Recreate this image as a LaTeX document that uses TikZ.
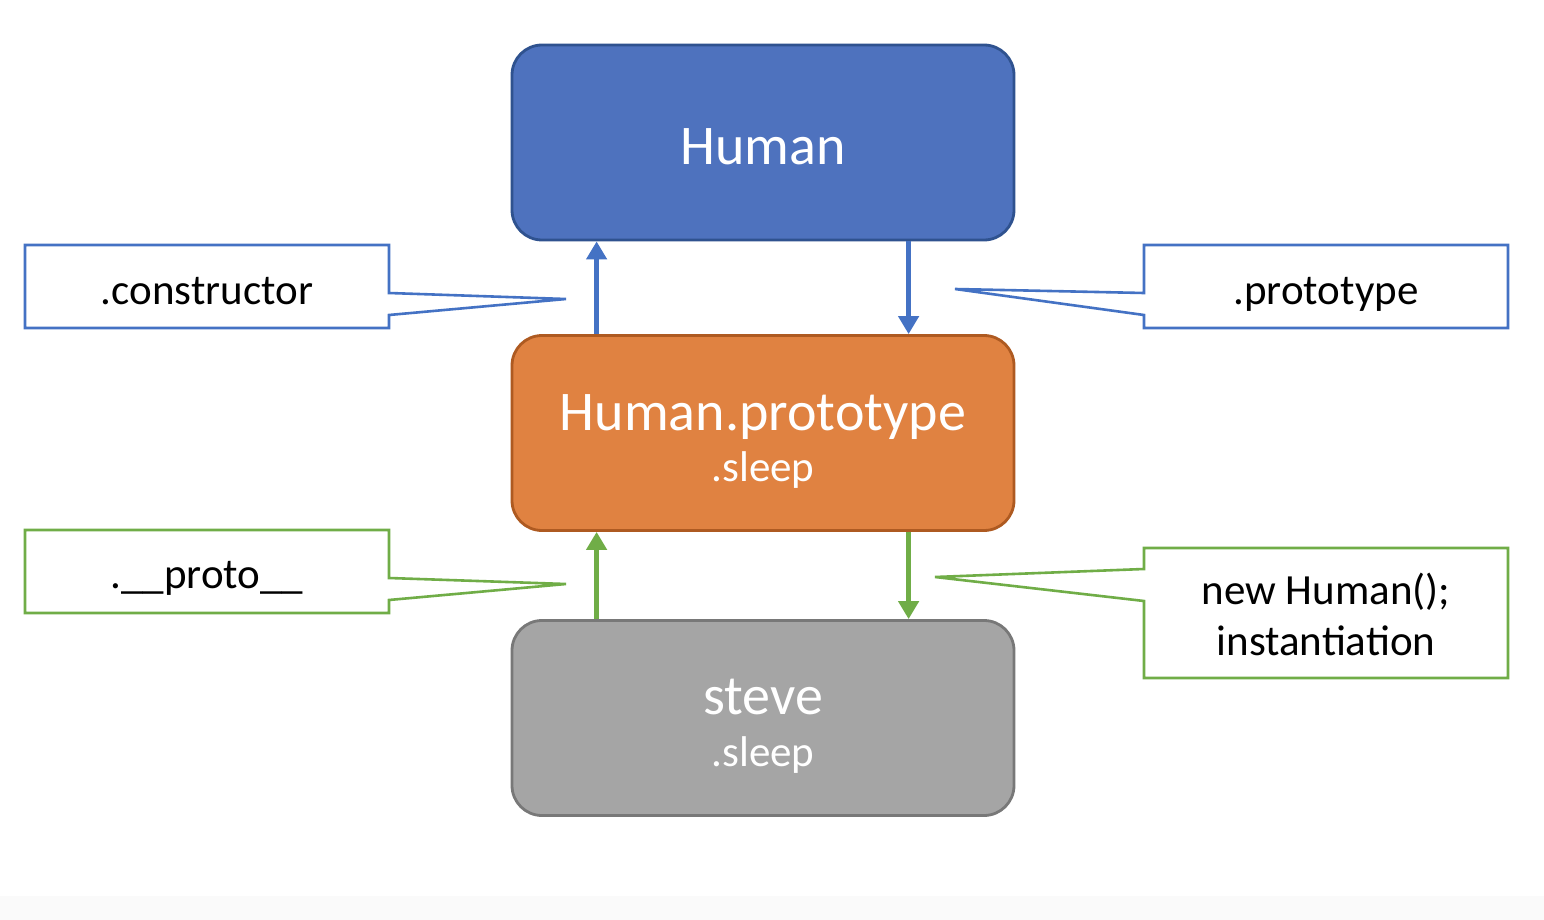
\documentclass[tikz,border=0pt]{standalone}
\usepackage{fontspec}
\setmainfont{Carlito}
\usetikzlibrary{arrows.meta,calc}
\definecolor{hblue}{HTML}{4E72BE}
\definecolor{hblueD}{HTML}{2F528F}
\definecolor{lblue}{HTML}{4472C4}
\definecolor{horange}{HTML}{E08241}
\definecolor{horangeD}{HTML}{AE5A21}
\definecolor{hgray}{HTML}{A5A5A5}
\definecolor{hgrayD}{HTML}{787878}
\definecolor{hgreen}{HTML}{70AD47}
\definecolor{strip}{HTML}{FAFAFA}
\tikzset{
  objbox/.style={rectangle, rounded corners=15pt, minimum width=251pt, minimum height=97.5pt, line width=1.4pt, inner sep=0pt},
  bigtxt/.style={anchor=base, text=white, font=\fontsize{28}{32}\selectfont, inner sep=0pt},
  smalltxt/.style={anchor=base, text=white, font=\fontsize{21.5}{25}\selectfont, inner sep=0pt},
  calltxt/.style={anchor=base, text=black, font=\fontsize{21.5}{25}\selectfont, inner sep=0pt},
  callbox/.style={line width=1.3pt, fill=white},
  link/.style={line width=2.8pt, -{Triangle[width=10pt,length=9pt]}},
}
\begin{document}
\begin{tikzpicture}[x=0.5pt,y=-0.5pt]
\useasboundingbox (0,0) rectangle (1544,920);
\fill[white] (0,0) rectangle (1544,920);
\fill[strip] (0,896) rectangle (1544,920);

% object boxes
\node[objbox, fill=hblue, draw=hblueD] (H) at (763,142.5) {};
\node[objbox, fill=horange, draw=horangeD] (HP) at (763,433) {};
\node[objbox, fill=hgray, draw=hgrayD] (S) at (763,718) {};

\node[bigtxt] (Htxt) at (763,165) {Human};
\node[bigtxt] (HPtxt) at (763,430) {Human.prototype};
\node[smalltxt] (HPsleep) at (763,481) {.sleep};
\node[bigtxt] (Stxt) at (763,714) {steve};
\node[smalltxt] (Ssleep) at (763,766) {.sleep};

% connector end points
\coordinate (HPl) at ($(HP.north west)+(86,0)$);
\coordinate (Hl) at ($(H.south west)+(86,0)$);
\coordinate (Hr) at ($(H.south west)+(398,0)$);
\coordinate (HPr) at ($(HP.north west)+(398,0)$);
\coordinate (Sl) at ($(S.north west)+(86,0)$);
\coordinate (HPbl) at ($(HP.south west)+(86,0)$);
\coordinate (HPbr) at ($(HP.south west)+(398,0)$);
\coordinate (Sr) at ($(S.north west)+(398,0)$);

\draw[link, draw=lblue, fill=lblue] (HPl) -- (Hl);
\draw[link, draw=lblue, fill=lblue] (Hr) -- (HPr);
\draw[link, draw=hgreen, fill=hgreen] (Sl) -- (HPbl);
\draw[link, draw=hgreen, fill=hgreen] (HPbr) -- (Sr);

% callouts
\draw[callbox, draw=lblue] (25,245) -- (389,245) -- (389,293) -- (566,299) -- (389,315) -- (389,328) -- (25,328) -- cycle;
\node[calltxt] (ctor) at (207,304) {.constructor};

\draw[callbox, draw=lblue] (1144,245) -- (1508,245) -- (1508,328) -- (1144,328) -- (1144,315) -- (955,289) -- (1144,293) -- cycle;
\node[calltxt] (proto) at (1326,304) {.prototype};

\draw[callbox, draw=hgreen] (25,530) -- (389,530) -- (389,578) -- (566,584) -- (389,600) -- (389,613) -- (25,613) -- cycle;
\node[calltxt] (dproto) at (207,588) {.\_\_proto\_\_};

\draw[callbox, draw=hgreen] (1144,548) -- (1508,548) -- (1508,678) -- (1144,678) -- (1144,601) -- (935,577) -- (1144,569) -- cycle;
\node[calltxt] (newh) at (1326,604) {new Human();};
\node[calltxt] (inst) at (1326,655) {instantiation};
\end{tikzpicture}
\end{document}
